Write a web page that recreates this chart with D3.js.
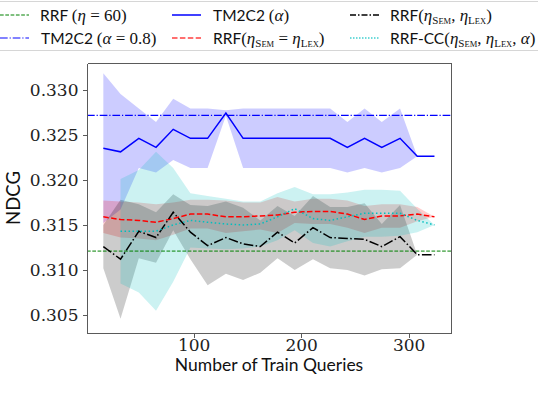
<!DOCTYPE html>
<meta charset="utf-8">
<style>
body { margin: 0; background: #fff; }
</style>
<svg></svg>
<script src="https://d3js.org/d3.v7.min.js"></script>
<script>
var width = 538,
    height = 396;

// number of train queries
var queries = [16, 32, 49, 65, 81, 97, 113, 130, 146, 162, 178, 194, 211, 227, 243, 259, 275, 292, 308, 324];

// TM2C2 (alpha) mean / std
var tmMean = [0.3235, 0.3231, 0.3246, 0.3236, 0.3256, 0.3246, 0.3246, 0.3274, 0.3246, 0.3246,
              0.3246, 0.3246, 0.3246, 0.3246, 0.3236, 0.3246, 0.3236, 0.3246, 0.3226, 0.3226];
var tmStd  = [0.0083, 0.0064, 0.0033, 0.0028, 0.0034, 0.0033, 0.0033, 0.0003, 0.0033, 0.0033,
              0.0033, 0.0033, 0.0033, 0.0033, 0.0028, 0.0033, 0.0028, 0.0033, 0, 0];

// RRF(eta_sem = eta_lex)
var rrfEqMean = [0.3159, 0.3156, 0.3155, 0.3153, 0.3157, 0.3162, 0.3162, 0.3159, 0.3159, 0.3160,
                 0.3161, 0.3164, 0.3165, 0.3165, 0.3162, 0.3156, 0.3160, 0.3160, 0.3162, 0.3159];
var rrfEqStd  = [0.0018, 0.0020, 0.0020, 0.0020, 0.0018, 0.0016, 0.0016, 0.0018, 0.0016, 0.0015,
                 0.0020, 0.0012, 0.0014, 0.0014, 0.0015, 0.0015, 0.0013, 0.0013, 0.0008, 0];

// RRF(eta_sem, eta_lex)
var rrfMean = [0.3126, 0.3112, 0.3143, 0.3136, 0.3164, 0.3142, 0.3127, 0.3136, 0.3129, 0.3126,
               0.3142, 0.3130, 0.3147, 0.3136, 0.3135, 0.3134, 0.3126, 0.3137, 0.3117, 0.3117];
var rrfStd  = [0.0024, 0.0066, 0.0030, 0.0028, 0.0020, 0.0030, 0.0044, 0.0040, 0.0040, 0.0029,
               0.0029, 0.0030, 0.0035, 0.0034, 0.0035, 0.0040, 0.0025, 0.0035, 0, 0];

// RRF-CC (first point missing)
var ccMean = [null, 0.3143, 0.3143, 0.3143, 0.3150, 0.3155, 0.3153, 0.3151, 0.3150, 0.3151,
              0.3159, 0.3168, 0.3157, 0.3155, 0.3159, 0.3163, 0.3163, 0.3163, 0.3155, 0.3150];
var ccStd  = [null, 0.0058, 0.0068, 0.0088, 0.0063, 0.0030, 0.0029, 0.0028, 0.0026, 0.0025,
              0.0026, 0.0024, 0.0027, 0.0029, 0.0027, 0.0026, 0.0026, 0.0025, 0.0013, 0];

var rrf60 = 0.3121,
    tm08 = 0.32715;

var yTicks = [0.305, 0.310, 0.315, 0.320, 0.325, 0.330],
    xTicks = [100, 200, 300];

var svg = d3.select("svg")
    .attr("width", width)
    .attr("height", height);

var pLeft = 87, pRight = 451, pTop = 63, pBottom = 333;

var x = d3.scaleLinear().domain([0.81, 339.39]).range([pLeft, pRight]);
var y = d3.scaleLinear().domain([0.30302, 0.33295]).range([pBottom, pTop]);

var serif = "'DejaVu Serif', serif",
    mathFont = "'Liberation Serif', serif",
    sans = "Lato, 'DejaVu Sans', sans-serif";

function rows(mean, std) {
  return queries.map(function(q, i) {
    return {q: q, m: mean[i], s: std[i]};
  }).filter(function(d) { return d.m != null; });
}

var area = d3.area()
    .x(function(d) { return x(d.q); })
    .y0(function(d) { return y(d.m - d.s); })
    .y1(function(d) { return y(d.m + d.s); });

var line = d3.line()
    .x(function(d) { return x(d.q); })
    .y(function(d) { return y(d.m); });

var defs = svg.append("defs");
defs.append("clipPath").attr("id", "clip")
  .append("rect").attr("x", pLeft).attr("y", pTop).attr("width", pRight - pLeft).attr("height", pBottom - pTop);
var inner = svg.append("g").attr("clip-path", "url(#clip)");

var series = [
  {data: rows(tmMean, tmStd), color: "#0000ff", dash: null, width: 1.5},
  {data: rows(rrfEqMean, rrfEqStd), color: "#ff0000", dash: "5.5,2.4", width: 1.5},
  {data: rows(rrfMean, rrfStd), color: "#000000", dash: "9.6,2.4,1.5,2.4", width: 1.5},
  {data: rows(ccMean, ccStd), color: "#00bfbf", dash: "1.5,2.5", width: 1.5}
];

series.forEach(function(s) {
  inner.append("path")
      .attr("d", area(s.data))
      .attr("fill", s.color)
      .attr("fill-opacity", 0.2);
});

// horizontal baselines
inner.append("line")
    .attr("x1", pLeft).attr("x2", pRight)
    .attr("y1", y(rrf60)).attr("y2", y(rrf60))
    .attr("stroke", "#008000").attr("stroke-width", 1)
    .attr("stroke-dasharray", "3.7,1.6");
inner.append("line")
    .attr("x1", pLeft).attr("x2", pRight)
    .attr("y1", y(tm08)).attr("y2", y(tm08))
    .attr("stroke", "#0000ff").attr("stroke-width", 1.2)
    .attr("stroke-dasharray", "7.7,1.9,1.2,1.9");

series.forEach(function(s) {
  inner.append("path")
      .attr("d", line(s.data))
      .attr("fill", "none")
      .attr("stroke", s.color)
      .attr("stroke-width", s.width)
      .attr("stroke-dasharray", s.dash);
});

// frame
var frame = svg.append("g")
    .attr("stroke", "#5a5a5a")
    .attr("stroke-width", 1)
    .attr("shape-rendering", "crispEdges");
[[pLeft, pTop, pRight, pTop], [pLeft, pBottom, pRight, pBottom], [pLeft, pTop, pLeft, pBottom], [pRight, pTop, pRight, pBottom]]
  .forEach(function(s) {
    frame.append("line")
        .attr("x1", s[0] + 0.5).attr("y1", s[1] + 0.5)
        .attr("x2", s[2] + 0.5).attr("y2", s[3] + 0.5);
  });

var yAxis = svg.append("g")
    .attr("transform", "translate(" + (pLeft + 0.5) + ",0)")
    .call(d3.axisLeft(y).tickValues(yTicks).tickFormat(d3.format(".3f")).tickSize(5).tickPadding(4));
var xAxis = svg.append("g")
    .attr("transform", "translate(0," + (pBottom + 0.5) + ")")
    .call(d3.axisBottom(x).tickValues(xTicks).tickSize(4).tickPadding(1));

[xAxis, yAxis].forEach(function(a) {
  a.select(".domain").remove();
  a.selectAll("line").attr("stroke", "#5a5a5a").attr("shape-rendering", "crispEdges");
  a.selectAll("text").attr("font-family", serif).attr("font-size", 17).attr("fill", "#222");
});

svg.append("text")
    .attr("x", 269).attr("y", 371)
    .attr("text-anchor", "middle")
    .attr("font-family", sans).attr("font-size", 17.5).attr("fill", "#111")
    .text("Number of Train Queries");

svg.append("text")
    .attr("transform", "translate(20,198) rotate(-90)")
    .attr("text-anchor", "middle")
    .attr("font-family", sans).attr("font-size", 18.5).attr("fill", "#111")
    .text("NDCG");

// legend
svg.append("rect")
    .attr("x", -6.5).attr("y", 1.5).attr("width", width + 12).attr("height", 49)
    .attr("rx", 3)
    .attr("fill", "#fff").attr("stroke", "#d6d6d6").attr("stroke-width", 1);

var SEM = [{t: "S", sub: true}, {t: "EM", sub: true, small: true}],
    LEX = [{t: "L", sub: true}, {t: "EX", sub: true, small: true}];

var legendItems = [
  {col: 0, row: 0, color: "#008000", dash: "3.7,1.6", w: 1,
   parts: [{t: "RRF ", s: 1}, {t: "("}, {t: "η", i: 1}, {t: " = 60)"}]},
  {col: 0, row: 1, color: "#5a5aff", dash: "7.7,1.9,1.2,1.9", w: 1.5,
   parts: [{t: "TM2C2 ", s: 1}, {t: "("}, {t: "α", i: 1}, {t: " = 0.8)"}]},
  {col: 1, row: 0, color: "#0000ff", dash: null, w: 1.5,
   parts: [{t: "TM2C2 ", s: 1}, {t: "("}, {t: "α", i: 1}, {t: ")"}]},
  {col: 1, row: 1, color: "#ff4040", dash: "5.5,2.4", w: 1.5,
   parts: [{t: "RRF", s: 1}, {t: "("}, {t: "η", i: 1}].concat(SEM, [{t: " = "}, {t: "η", i: 1}], LEX, [{t: ")"}])},
  {col: 2, row: 0, color: "#000000", dash: "6,2,1.5,2", w: 1.5,
   parts: [{t: "RRF", s: 1}, {t: "("}, {t: "η", i: 1}].concat(SEM, [{t: ", "}, {t: "η", i: 1}], LEX, [{t: ")"}])},
  {col: 2, row: 1, color: "#40d0d0", dash: "1.5,1.5", w: 1.5,
   parts: [{t: "RRF-CC", s: 1}, {t: "("}, {t: "η", i: 1}].concat(SEM, [{t: ", "}, {t: "η", i: 1}], LEX, [{t: ", "}, {t: "α", i: 1}, {t: ")"}])}
];

var colHandle = [0, 172, 350],
    colText = [40, 213, 390],
    rowY = [15, 38];

legendItems.forEach(function(d) {
  var yy = rowY[d.row];
  svg.append("line")
      .attr("x1", colHandle[d.col]).attr("x2", colHandle[d.col] + 29)
      .attr("y1", yy).attr("y2", yy)
      .attr("stroke", d.color).attr("stroke-width", d.w)
      .attr("stroke-dasharray", d.dash);
  var t = svg.append("text")
      .attr("x", colText[d.col] + (d.col === 0 && d.row === 1 ? 1 : 0))
      .attr("y", yy + 5.5)
      .attr("font-size", 16).attr("fill", "#111");
  var subOn = false;
  d.parts.forEach(function(p) {
    var span = t.append("tspan").text(p.t);
    if (p.s) span.attr("font-family", sans).attr("font-size", 15.5);
    else span.attr("font-family", mathFont).attr("font-size", 17);
    if (p.i) span.attr("font-style", "italic");
    if (p.sub) {
      span.attr("font-size", p.small ? 8.5 : 11);
      if (!subOn) { span.attr("dy", 3); subOn = true; }
    } else if (subOn) {
      span.attr("dy", -3); subOn = false;
    }
  });
});
</script>
